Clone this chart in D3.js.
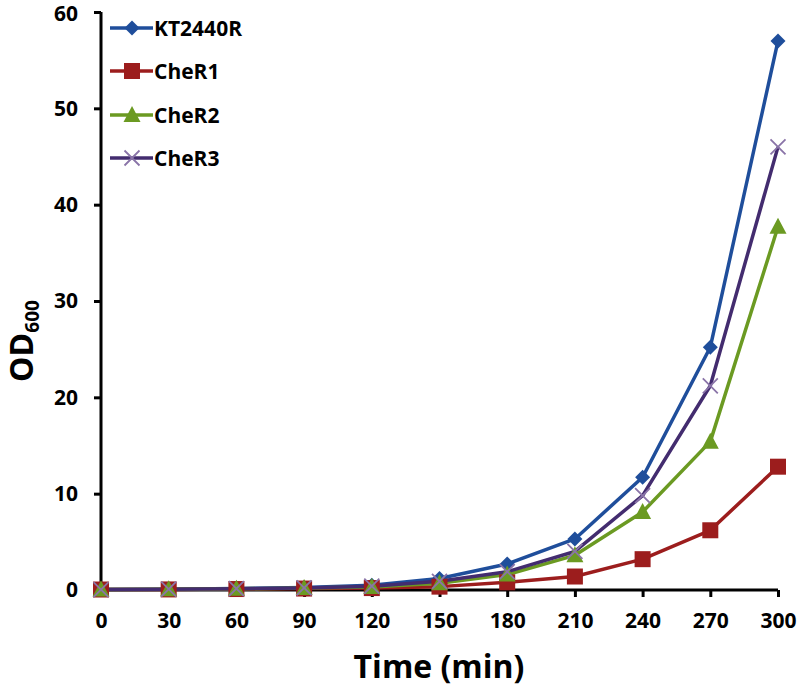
<!DOCTYPE html>
<html><head><meta charset="utf-8">
<script src="https://cdn.jsdelivr.net/npm/d3@7"></script>
<style>body{margin:0;background:#fff}svg{display:block}</style>
</head><body>
<script>
const times = [0,30,60,90,120,150,180,210,240,270,300];
const kt2440r = [0.05,0.08,0.15,0.25,0.5,1.2,2.7,5.3,11.7,25.2,57.0];
const cheR1   = [0.05,0.06,0.1,0.15,0.2,0.35,0.8,1.4,3.2,6.2,12.8];
const cheR2   = [0.05,0.07,0.12,0.2,0.3,0.7,1.6,3.6,8.1,15.4,37.7];
const cheR3   = [0.05,0.08,0.14,0.22,0.4,0.9,1.9,4.0,9.8,21.2,46.0];
const seriesNames = ["KT2440R","CheR1","CheR2","CheR3"];
const yTicks = [0,10,20,30,40,50,60];

const series = [
  {name:seriesNames[0], values:kt2440r, color:"#1f4e9b", mcolor:"#1f4e9b", marker:"diamond"},
  {name:seriesNames[1], values:cheR1, color:"#9c1d1d", mcolor:"#9c1d1d", marker:"square"},
  {name:seriesNames[2], values:cheR2, color:"#6b9a22", mcolor:"#6b9a22", marker:"triangle"},
  {name:seriesNames[3], values:cheR3, color:"#432c6f", mcolor:"#8a74a8", marker:"x"}
];

const W=798,H=686;
const svg=d3.select("body").append("svg").attr("width",W).attr("height",H);
const x=d3.scaleLinear().domain([0,300]).range([101,778]);
const y=d3.scaleLinear().domain([0,60]).range([590,12]);
const font="'Open Sans', sans-serif";

function drawMarker(g,type,cx,cy,mc){
  if(type==="diamond"){
    g.append("path").attr("d",`M${cx},${cy-7.5}L${cx+7.5},${cy}L${cx},${cy+7.5}L${cx-7.5},${cy}Z`).attr("fill",mc);
  } else if(type==="square"){
    g.append("rect").attr("x",cx-8).attr("y",cy-8).attr("width",16).attr("height",16).attr("fill",mc);
  } else if(type==="triangle"){
    g.append("path").attr("d",`M${cx},${cy-9}L${cx+8.5},${cy+7}L${cx-8.5},${cy+7}Z`).attr("fill",mc);
  } else {
    g.append("path").attr("d",`M${cx-7.5},${cy-7.5}L${cx+7.5},${cy+7.5}M${cx-7.5},${cy+7.5}L${cx+7.5},${cy-7.5}`).attr("stroke",mc).attr("stroke-width",1.8);
  }
}

// axes
const xAxis=svg.append("g").attr("transform","translate(0,590)")
  .call(d3.axisBottom(x).tickValues(times).tickSize(7).tickPadding(16));
const yAxis=svg.append("g").attr("transform","translate(101,0)")
  .call(d3.axisLeft(y).tickValues(yTicks).tickSize(7).tickPadding(16));
[xAxis,yAxis].forEach(a=>{
  a.select(".domain").attr("stroke","#000").attr("stroke-width",3);
  a.selectAll(".tick line").attr("stroke","#000").attr("stroke-width",3);
  a.selectAll(".tick text").attr("fill","#000").attr("font-family",font).attr("font-weight","bold").attr("font-size",21);
});
xAxis.select(".domain").attr("d","M101,0H778");
yAxis.select(".domain").attr("d","M0,12V590");
yAxis.selectAll(".tick text").filter(d=>d===60).attr("dy","0.4em");

// lines
const line=d3.line().x((d,i)=>x(times[i])).y(d=>y(d));
series.forEach(s=>{
  svg.append("path").datum(s.values).attr("d",line).attr("fill","none")
    .attr("stroke",s.color).attr("stroke-width",3.5).attr("stroke-linejoin","round");
});
series.forEach(s=>{
  const g=svg.append("g");
  s.values.forEach((v,i)=>drawMarker(g,s.marker,x(times[i]),y(v),s.mcolor));
});

// legend
const legY=[28,71,115,158];
series.forEach((s,i)=>{
  const g=svg.append("g");
  g.append("line").attr("x1",110).attr("x2",153).attr("y1",legY[i]).attr("y2",legY[i]).attr("stroke",s.color).attr("stroke-width",3.5);
  drawMarker(g,s.marker,132,legY[i],s.mcolor);
  g.append("text").attr("x",154).attr("y",legY[i]).attr("dy","0.36em").attr("font-family",font)
    .attr("font-weight","bold").attr("font-size",21).attr("fill","#000").text(s.name);
});

// axis titles
svg.append("text").attr("x",439).attr("y",678).attr("text-anchor","middle").attr("font-family",font)
  .attr("font-weight","bold").attr("font-size",32).attr("fill","#000").text("Time (min)");
const yt=svg.append("text").attr("transform","translate(33,341) rotate(-90)").attr("text-anchor","middle")
  .attr("font-family",font).attr("font-weight","bold").attr("font-size",32).attr("fill","#000");
yt.append("tspan").text("OD");
yt.append("tspan").attr("font-size",19).attr("dy",6).text("600");
</script>
</body></html>
